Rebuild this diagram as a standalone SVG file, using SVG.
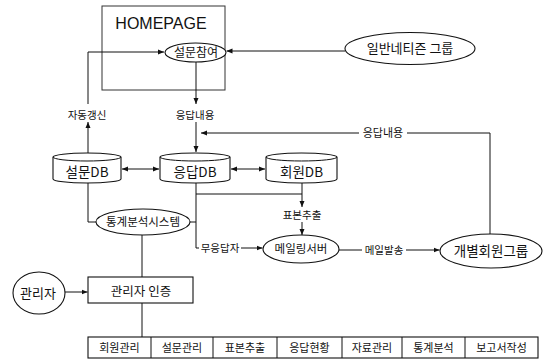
<svg xmlns="http://www.w3.org/2000/svg" width="544" height="359" viewBox="0 0 544 359">
<style>
.s{fill:#fff;stroke:#111;stroke-width:1.1}
.c{fill:none;stroke:#111;stroke-width:1}
.t{font-family:"Noto Sans CJK KR","Noto Sans",sans-serif;fill:#111;text-anchor:middle}
.n{font-size:13.5px}
.l{font-size:10.5px}
.h{font-family:"Liberation Sans",Arial,sans-serif;font-size:16px;fill:#111;text-anchor:middle}
</style>
<defs>
<marker id="a" viewBox="0 0 6 6" refX="6" refY="3" markerWidth="6" markerHeight="6" markerUnits="userSpaceOnUse" orient="auto-start-reverse">
<path d="M0,0.5 L6,3 L0,5.5 z" fill="#111"/>
</marker>
</defs>
<rect width="544" height="359" fill="#fff"/>
<g id="homepage">
<rect x="102" y="6" width="123" height="84" fill="none" stroke="#333" stroke-width="1"/>
<text class="h" x="161" y="29">HOMEPAGE</text>
</g>
<g id="survey">
<ellipse class="s" cx="195.5" cy="52.5" rx="30.5" ry="9.5"/>
<text class="t" style="font-size:12px" x="196" y="57">설문참여</text>
</g>
<g id="netizen">
<ellipse class="s" cx="410" cy="48.5" rx="65" ry="16"/>
<text class="t" style="font-size:13px" x="410" y="53">일반네티즌 그룹</text>
</g>
<g id="surveydb">
<path class="s" d="M53,157 a34,4 0 0,1 68,0 v22 a34,4 0 0,1 -68,0 z"/>
<path class="c" d="M53,157 a34,4 0 0,0 68,0"/>
<text class="t n" x="87" y="176.5">설문DB</text>
</g>
<g id="responsedb">
<path class="s" d="M160,157 a35,4 0 0,1 70,0 v22 a35,4 0 0,1 -70,0 z"/>
<path class="c" d="M160,157 a35,4 0 0,0 70,0"/>
<text class="t n" x="195" y="176.5">응답DB</text>
</g>
<g id="memberdb">
<path class="s" d="M266,157 a35.5,4 0 0,1 71,0 v22 a35.5,4 0 0,1 -71,0 z"/>
<path class="c" d="M266,157 a35.5,4 0 0,0 71,0"/>
<text class="t n" x="301.5" y="176.5">회원DB</text>
</g>
<g id="stats">
<ellipse class="s" cx="143" cy="222" rx="47" ry="13"/>
<text class="t" style="font-size:11.5px" x="143" y="226">통계분석시스템</text>
</g>
<g id="mailserver">
<ellipse class="s" cx="301" cy="249" rx="38" ry="14"/>
<text class="t" style="font-size:11.5px" x="301" y="253">메일링서버</text>
</g>
<g id="members">
<ellipse class="s" cx="491" cy="251" rx="51" ry="17"/>
<text class="t" style="font-size:13.5px" x="491" y="256">개별회원그룹</text>
</g>
<g id="admin">
<ellipse class="s" cx="39" cy="293" rx="26" ry="21"/>
<text class="t" style="font-size:13px" x="38" y="297.5">관리자</text>
</g>
<g id="auth">
<rect class="s" x="88" y="277" width="105" height="26"/>
<text class="t" style="font-size:12.5px" x="141" y="296">관리자 인증</text>
</g>
<g id="menu">
<rect class="s" x="88" y="337" width="450" height="21"/>
<path class="c" d="M151,337V358M213,337V358M277,337V358M342,337V358M402,337V358M465,337V358"/>
<text class="t" style="font-size:11px" x="119.5" y="351.5">회원관리</text>
<text class="t" style="font-size:11px" x="182" y="351.5">설문관리</text>
<text class="t" style="font-size:11px" x="245" y="351.5">표본추출</text>
<text class="t" style="font-size:11px" x="309.5" y="351.5">응답현황</text>
<text class="t" style="font-size:11px" x="372" y="351.5">자료관리</text>
<text class="t" style="font-size:11px" x="433.5" y="351.5">통계분석</text>
<text class="t" style="font-size:11px" x="501.5" y="351.5">보고서작성</text>
</g>
<g id="connectors">
<path class="c" d="M88,104 V52 H164" marker-end="url(#a)"/>
<path class="c" d="M88,153 V122" marker-end="url(#a)"/>
<text class="t l" x="87" y="119">자동갱신</text>
<path class="c" d="M196,62 V104" marker-end="url(#a)"/>
<path class="c" d="M196,122 V152" marker-end="url(#a)"/>
<text class="t l" x="195" y="119">응답내용</text>
<path class="c" d="M345,51 H226.5" marker-end="url(#a)"/>
<path class="c" d="M122,169 H159" marker-start="url(#a)" marker-end="url(#a)"/>
<path class="c" d="M231,169 H265" marker-start="url(#a)" marker-end="url(#a)"/>
<path class="c" d="M88,183 V222 H96"/>
<path class="c" d="M190,222 H196"/>
<path class="c" d="M196,183 V248 H199"/>
<path class="c" d="M196,194 H302"/>
<path class="c" d="M302,183 V207" marker-end="url(#a)"/>
<text class="t l" x="302" y="219">표본추출</text>
<path class="c" d="M302,222 V235" marker-end="url(#a)"/>
<text class="t l" x="220" y="252">무응답자</text>
<path class="c" d="M241,248 H262.5" marker-end="url(#a)"/>
<path class="c" d="M339,250 H362"/>
<text class="t l" x="384" y="254">메일발송</text>
<path class="c" d="M406,250 H439.5" marker-end="url(#a)"/>
<path class="c" d="M490,234 V133 H407"/>
<text class="t" style="font-size:11px" x="383" y="137">응답내용</text>
<path class="c" d="M359,133 H201" marker-end="url(#a)"/>
<path class="c" d="M142,235 V277"/>
<path class="c" d="M65,292 H87.5" marker-end="url(#a)"/>
<path class="c" d="M142,303 V337"/>
</g>
</svg>
